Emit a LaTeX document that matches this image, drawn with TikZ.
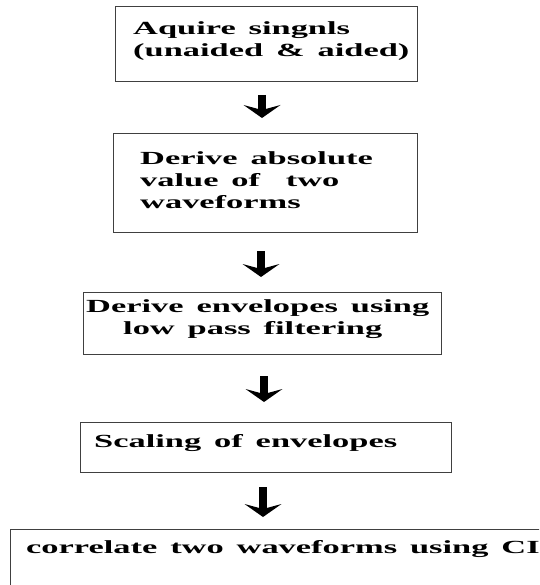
\documentclass[tikz,border=0pt]{standalone}
\usepackage{fontspec}
\setmainfont{Liberation Serif}[FakeStretch=1.86,WordSpace=1.5]
\usetikzlibrary{arrows.meta}
\begin{document}
\begin{tikzpicture}[x=1pt,y=-1pt,
  box/.style={draw=black!75, line width=1.3pt, inner sep=0pt, anchor=north west},
  txt/.style={anchor=base west, inner sep=0pt, font=\fontsize{18.5}{22}\selectfont\bfseries},
  arr/.style={line width=8.5pt, -{Stealth[length=13pt,width=37pt,inset=5pt,line width=0pt]}}]
\path[use as bounding box] (0,0) rectangle (539,585);
\clip (0,0) rectangle (539,585);
% boxes
\node[box, minimum width=302pt, minimum height=75pt] (b1) at (115,6) {};
\node[box, minimum width=304pt, minimum height=99pt] (b2) at (113,133) {};
\node[box, minimum width=358pt, minimum height=62pt] (b3) at (83,292) {};
\node[box, minimum width=371pt, minimum height=50pt] (b4) at (80,422) {};
\node[box, minimum width=560pt, minimum height=80pt] (b5) at (10,529) {};
% texts
\node[txt] (t1a) at (133,35) {Aquire singnls};
\node[txt] (t1b) at (133,57) {(unaided \& aided)};
\node[txt] (t2a) at (140,165) {Derive absolute};
\node[txt] (t2b) at (140,186) {value of\ \ two};
\node[txt] (t2c) at (140,208) {waveforms};
\node[txt] (t3a) at (86,312) {Derive envelopes using};
\node[txt] (t3b) at (123,334) {low pass filtering};
\node[txt] (t4) at (94,447) {Scaling of envelopes};
\node[txt] (t5) at (26,553) {correlate two waveforms using CI};
% arrows
\coordinate (a1s) at (262,95);  \coordinate (a1e) at (262,118);
\coordinate (a2s) at (261,251); \coordinate (a2e) at (261,277);
\coordinate (a3s) at (264,376); \coordinate (a3e) at (264,402);
\coordinate (a4s) at (263,487); \coordinate (a4e) at (263,517);
\draw[arr] (a1s) -- (a1e);
\draw[arr] (a2s) -- (a2e);
\draw[arr] (a3s) -- (a3e);
\draw[arr] (a4s) -- (a4e);
\end{tikzpicture}
\end{document}
